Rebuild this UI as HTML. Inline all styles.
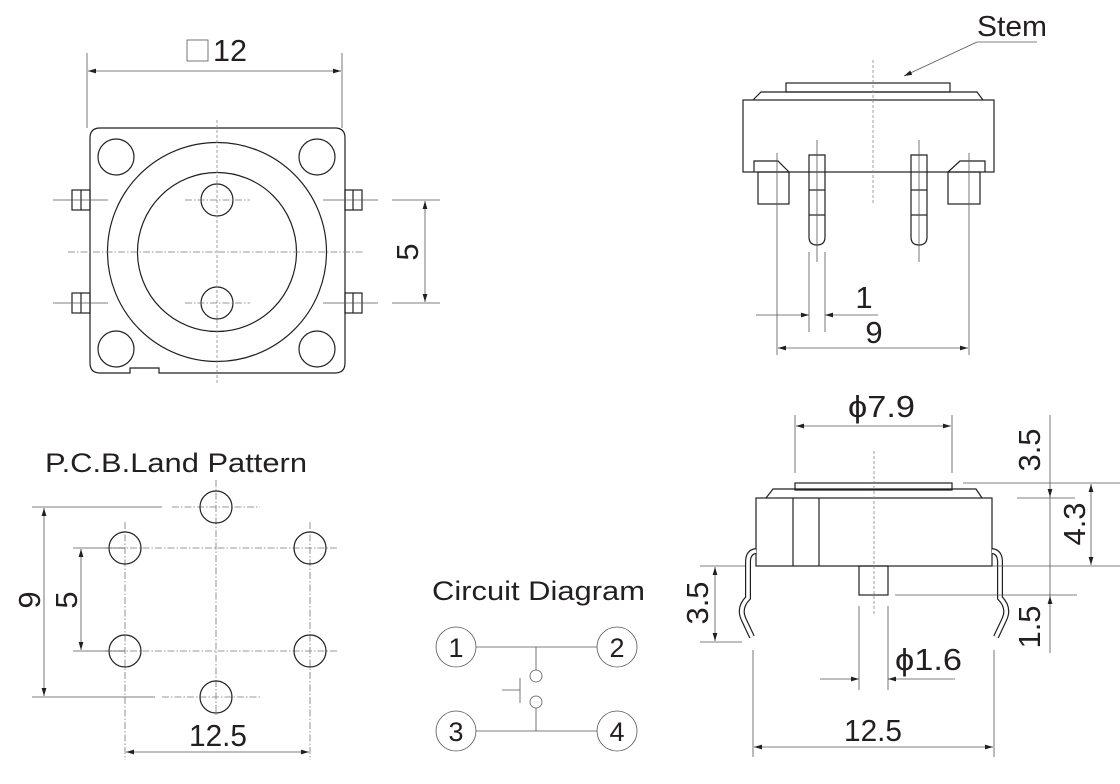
<!DOCTYPE html>
<html><head><meta charset="utf-8"><style>
html,body{margin:0;padding:0;background:#fff;}
svg{display:block;}
text{font-family:"Liberation Sans",sans-serif;fill:#231f20;}
.s{fill:none;stroke:#231f20;stroke-width:1.2;}
.t{fill:none;stroke:#555;stroke-width:0.8;}
.d{fill:none;stroke:#777;stroke-width:0.8;stroke-dasharray:7 2 1.5 2;}
.v{fill:none;stroke:#888;stroke-width:0.8;stroke-dasharray:3 2;}
</style></head><body>
<svg width="1120" height="784" viewBox="0 0 1120 784" xmlns="http://www.w3.org/2000/svg">
<defs>
<marker id="a" viewBox="0 0 10 6" refX="10" refY="3" markerWidth="8" markerHeight="5" orient="auto-start-reverse" markerUnits="userSpaceOnUse"><path d="M0,0 L10,3 L0,6 z" fill="#231f20"/></marker>
</defs>

<!-- ===== Top-left view ===== -->
<rect x="187" y="40" width="21" height="21" class="t"/>
<text x="213" y="61" font-size="31" textLength="34" lengthAdjust="spacingAndGlyphs">12</text>
<line x1="87" y1="53" x2="87" y2="128" class="t"/>
<line x1="342" y1="53" x2="342" y2="128" class="t"/>
<line x1="88" y1="71" x2="341" y2="71" class="t" marker-start="url(#a)" marker-end="url(#a)"/>
<path d="M100,128 H335 Q345,128 345,138 V363 Q345,373 335,373 H159 V368 H130 V373 H100 Q90,373 90,363 V138 Q90,128 100,128 Z" class="s"/>
<circle cx="116" cy="157" r="18" class="s"/>
<circle cx="317" cy="157" r="18" class="s"/>
<circle cx="116" cy="349" r="18" class="s"/>
<circle cx="317" cy="349" r="18" class="s"/>
<circle cx="217" cy="252" r="109.5" class="s"/>
<circle cx="217" cy="252" r="79.5" class="s"/>
<circle cx="217" cy="200" r="16" class="s"/>
<circle cx="217" cy="303" r="16" class="s"/>
<rect x="72" y="190" width="18" height="20" class="s"/><line x1="81" y1="190" x2="81" y2="210" class="s"/>
<rect x="72" y="293" width="18" height="20" class="s"/><line x1="81" y1="293" x2="81" y2="313" class="s"/>
<rect x="345" y="190" width="17" height="20" class="s"/><line x1="353" y1="190" x2="353" y2="210" class="s"/>
<rect x="345" y="293" width="17" height="20" class="s"/><line x1="353" y1="293" x2="353" y2="313" class="s"/>
<line x1="217" y1="120" x2="217" y2="385" class="v"/>
<line x1="68" y1="252" x2="363" y2="252" class="d"/>
<line x1="53" y1="200" x2="108" y2="200" class="t"/><line x1="53" y1="303" x2="108" y2="303" class="t"/>
<line x1="185" y1="200" x2="250" y2="200" class="d"/><line x1="185" y1="303" x2="250" y2="303" class="d"/>
<line x1="323" y1="200" x2="378" y2="200" class="t"/><line x1="323" y1="303" x2="378" y2="303" class="t"/>
<line x1="392" y1="200" x2="440" y2="200" class="t"/><line x1="392" y1="303" x2="440" y2="303" class="t"/>
<line x1="425" y1="201" x2="425" y2="302" class="t" marker-start="url(#a)" marker-end="url(#a)"/>
<text font-size="31" transform="translate(418,252) rotate(-90)" text-anchor="middle">5</text>

<!-- ===== Top-right view ===== -->
<text x="977" y="36" font-size="29" textLength="70" lengthAdjust="spacingAndGlyphs">Stem</text>
<line x1="977" y1="42" x2="1037" y2="42" class="t"/>
<line x1="977" y1="42" x2="904" y2="76" class="t" marker-end="url(#a)"/>
<rect x="786" y="83" width="164" height="9" class="s"/>
<path d="M753,100 L761,92 H977 L983,100" class="s"/>
<rect x="743" y="100" width="251" height="72" class="s"/>
<path d="M754,172 V161 H778 L789,172" class="s"/>
<rect x="758" y="172" width="31" height="32" class="s"/>
<path d="M985,172 V161 H960 L948,172" class="s"/>
<rect x="948" y="172" width="32" height="32" class="s"/>
<path d="M809,155 H825 V237 Q825,245 817,245 Q809,245 809,237 Z" fill="#fff" class="s"/>
<line x1="809" y1="190" x2="825" y2="190" class="s"/><line x1="809" y1="215" x2="825" y2="215" class="s"/>
<path d="M911,155 H927 V237 Q927,245 919,245 Q911,245 911,237 Z" fill="#fff" class="s"/>
<line x1="911" y1="190" x2="927" y2="190" class="s"/><line x1="911" y1="215" x2="927" y2="215" class="s"/>
<line x1="817" y1="140" x2="817" y2="262" class="t"/>
<line x1="919" y1="140" x2="919" y2="262" class="t"/>
<line x1="873" y1="60" x2="873" y2="203" class="v"/>
<line x1="777" y1="153" x2="777" y2="355" class="t"/>
<line x1="969" y1="153" x2="969" y2="355" class="t"/>
<line x1="809" y1="252" x2="809" y2="332" class="t"/>
<line x1="825" y1="252" x2="825" y2="332" class="t"/>
<line x1="756" y1="315" x2="809" y2="315" class="t" marker-end="url(#a)"/>
<line x1="878" y1="315" x2="825" y2="315" class="t" marker-end="url(#a)"/>
<text x="864" y="308" font-size="31" text-anchor="middle">1</text>
<line x1="778" y1="348" x2="968" y2="348" class="t" marker-start="url(#a)" marker-end="url(#a)"/>
<text x="874" y="343" font-size="31" text-anchor="middle">9</text>

<!-- ===== PCB Land Pattern ===== -->
<text x="45" y="472" font-size="27" textLength="262" lengthAdjust="spacingAndGlyphs">P.C.B.Land Pattern</text>
<line x1="125" y1="522" x2="125" y2="760" class="d"/>
<line x1="310" y1="522" x2="310" y2="760" class="d"/>
<line x1="216" y1="480" x2="216" y2="715" class="d"/>
<line x1="105" y1="548" x2="337" y2="548" class="d"/>
<line x1="105" y1="651" x2="337" y2="651" class="d"/>
<line x1="172" y1="507" x2="260" y2="507" class="d"/>
<line x1="162" y1="697" x2="260" y2="697" class="d"/>
<circle cx="216" cy="507" r="16" fill="none" class="s"/>
<circle cx="125" cy="548" r="16" class="s"/>
<circle cx="310" cy="548" r="16" class="s"/>
<circle cx="125" cy="651" r="16" class="s"/>
<circle cx="310" cy="651" r="16" class="s"/>
<circle cx="216" cy="697" r="16" class="s"/>
<line x1="32" y1="507" x2="162" y2="507" class="t"/>
<line x1="32" y1="697" x2="155" y2="697" class="t"/>
<line x1="44" y1="508" x2="44" y2="696" class="t" marker-start="url(#a)" marker-end="url(#a)"/>
<text font-size="31" transform="translate(40,600) rotate(-90)" text-anchor="middle">9</text>
<line x1="73" y1="548" x2="125" y2="548" class="t"/>
<line x1="73" y1="651" x2="125" y2="651" class="t"/>
<line x1="81" y1="549" x2="81" y2="650" class="t" marker-start="url(#a)" marker-end="url(#a)"/>
<text font-size="31" transform="translate(77,600) rotate(-90)" text-anchor="middle">5</text>
<line x1="126" y1="752" x2="309" y2="752" class="t" marker-start="url(#a)" marker-end="url(#a)"/>
<text x="218" y="746" font-size="31" text-anchor="middle" textLength="58" lengthAdjust="spacingAndGlyphs">12.5</text>

<!-- ===== Circuit Diagram ===== -->
<text x="432" y="600" font-size="27" textLength="213" lengthAdjust="spacingAndGlyphs">Circuit Diagram</text>
<circle cx="456" cy="647" r="20" class="t"/><text x="456" y="657" font-size="27" text-anchor="middle">1</text>
<circle cx="617" cy="647" r="20" class="t"/><text x="617" y="657" font-size="27" text-anchor="middle">2</text>
<circle cx="456" cy="731" r="20" class="t"/><text x="456" y="741" font-size="27" text-anchor="middle">3</text>
<circle cx="617" cy="731" r="20" class="t"/><text x="617" y="741" font-size="27" text-anchor="middle">4</text>
<line x1="476" y1="647" x2="597" y2="647" class="t"/>
<line x1="476" y1="731" x2="597" y2="731" class="t"/>
<line x1="536" y1="647" x2="536" y2="670" class="t"/>
<circle cx="536" cy="676" r="6" class="t"/>
<circle cx="536" cy="702" r="6" class="t"/>
<line x1="536" y1="708" x2="536" y2="731" class="t"/>
<line x1="520" y1="678" x2="520" y2="703" class="t"/>
<line x1="502" y1="690" x2="520" y2="690" class="t"/>

<!-- ===== Bottom-right view ===== -->
<line x1="795" y1="415" x2="795" y2="473" class="t"/>
<line x1="952" y1="415" x2="952" y2="473" class="t"/>
<line x1="796" y1="426" x2="951" y2="426" class="t" marker-start="url(#a)" marker-end="url(#a)"/>
<text x="848" y="417" font-size="31" textLength="67" lengthAdjust="spacingAndGlyphs">ϕ7.9</text>
<rect x="795" y="483" width="157" height="7" class="s"/>
<path d="M766,498 L773,489 H976 L982,498" class="s"/>
<rect x="756" y="498" width="236" height="68" class="s"/>
<line x1="793" y1="498" x2="793" y2="566" class="s"/>
<line x1="819" y1="498" x2="819" y2="566" class="s"/>
<rect x="859" y="566" width="29" height="29" class="s"/>
<line x1="874" y1="451" x2="874" y2="615" class="v"/>
<path d="M756,551 Q748,552 748,562 V598 Q738,608 744,620 L752,637" fill="none" stroke="#231f20" stroke-width="6"/>
<path d="M756,551 Q748,552 748,562 V598 Q738,608 744,620 L752,637" fill="none" stroke="#fff" stroke-width="3.6"/>
<path d="M992,551 Q1000,552 1000,562 V598 Q1010,608 1004,620 L996,637" fill="none" stroke="#231f20" stroke-width="6"/>
<path d="M992,551 Q1000,552 1000,562 V598 Q1010,608 1004,620 L996,637" fill="none" stroke="#fff" stroke-width="3.6"/>
<line x1="963" y1="483" x2="1120" y2="483" class="t"/>
<line x1="1017" y1="498" x2="1075" y2="498" class="t"/>
<line x1="992" y1="566" x2="1120" y2="566" class="t"/>
<line x1="895" y1="595" x2="1077" y2="595" class="t"/>
<line x1="1050" y1="415" x2="1050" y2="653" class="t"/>
<line x1="1050" y1="490" x2="1050" y2="497" class="t" marker-end="url(#a)"/>
<line x1="1050" y1="603" x2="1050" y2="596" class="t" marker-end="url(#a)"/>
<line x1="1091" y1="484" x2="1091" y2="565" class="t" marker-start="url(#a)" marker-end="url(#a)"/>
<text font-size="31" transform="translate(1040,450) rotate(-90)" text-anchor="middle">3.5</text>
<text font-size="31" transform="translate(1085,524) rotate(-90)" text-anchor="middle">4.3</text>
<text font-size="31" transform="translate(1040,627) rotate(-90)" text-anchor="middle">1.5</text>
<line x1="700" y1="566" x2="745" y2="566" class="t"/>
<line x1="700" y1="642" x2="742" y2="642" class="t"/>
<line x1="715" y1="567" x2="715" y2="641" class="t" marker-start="url(#a)" marker-end="url(#a)"/>
<text font-size="31" transform="translate(708,603) rotate(-90)" text-anchor="middle">3.5</text>
<line x1="859" y1="606" x2="859" y2="690" class="t"/>
<line x1="888" y1="606" x2="888" y2="690" class="t"/>
<line x1="820" y1="679" x2="859" y2="679" class="t" marker-end="url(#a)"/>
<line x1="955" y1="679" x2="888" y2="679" class="t" marker-end="url(#a)"/>
<text x="895" y="670" font-size="31" textLength="67" lengthAdjust="spacingAndGlyphs">ϕ1.6</text>
<line x1="753" y1="650" x2="753" y2="757" class="t"/>
<line x1="994" y1="650" x2="994" y2="757" class="t"/>
<line x1="754" y1="747" x2="993" y2="747" class="t" marker-start="url(#a)" marker-end="url(#a)"/>
<text x="873" y="741" font-size="31" text-anchor="middle" textLength="58" lengthAdjust="spacingAndGlyphs">12.5</text>
</svg>
</body></html>
